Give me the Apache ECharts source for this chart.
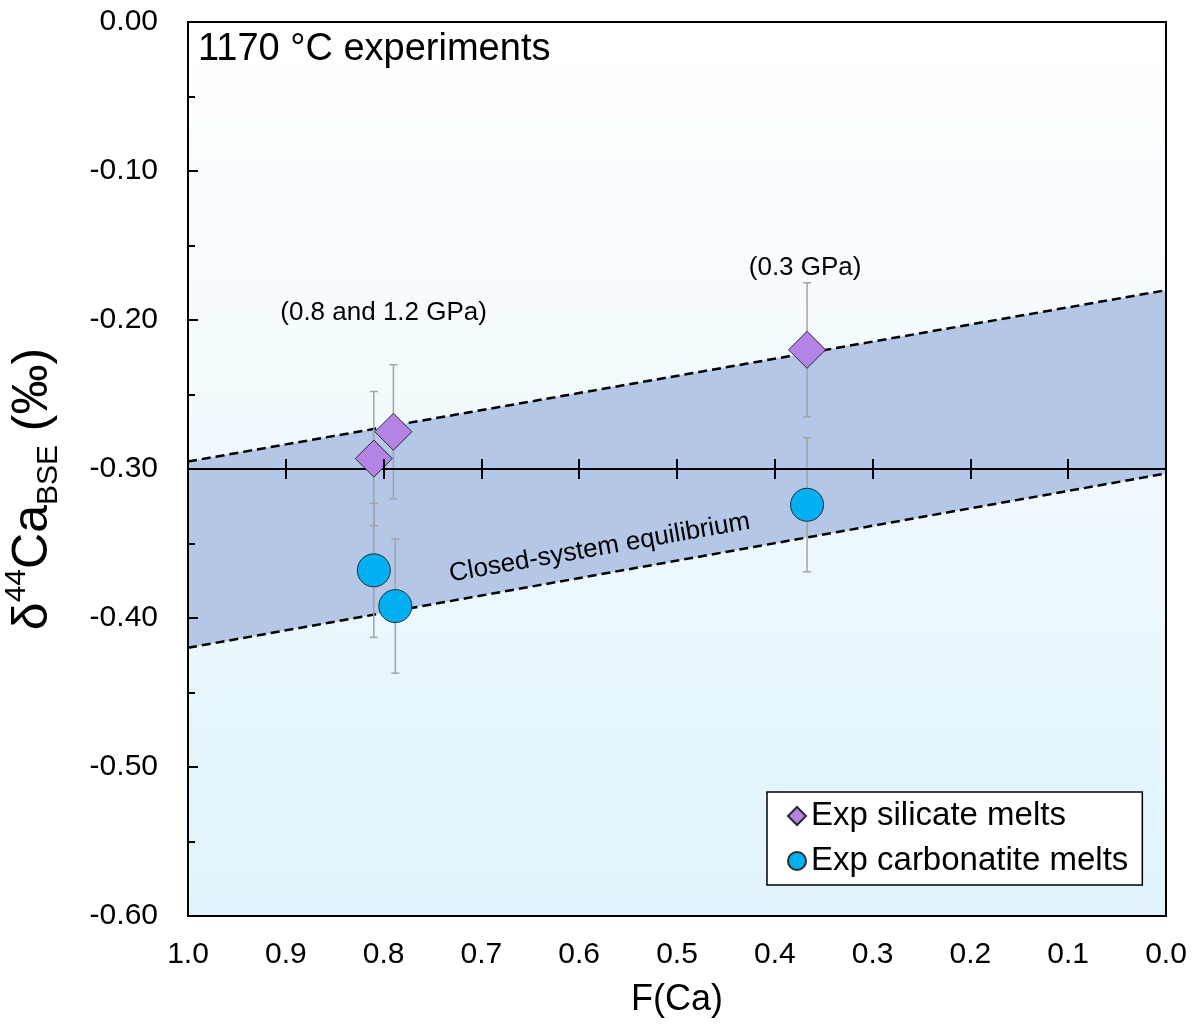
<!DOCTYPE html>
<html>
<head>
<meta charset="utf-8">
<script src="https://cdn.jsdelivr.net/npm/echarts@6/dist/echarts.min.js"></script>
<style>
  html, body { margin: 0; padding: 0; background: #fff; }
  #chart { width: 1195px; height: 1027px; }
</style>
</head>
<body>
<div id="chart"></div>
<script>
// data
const xTicks = [1.0, 0.9, 0.8, 0.7, 0.6, 0.5, 0.4, 0.3, 0.2, 0.1, 0.0];
const yTicks = [0.0, -0.1, -0.2, -0.3, -0.4, -0.5, -0.6];

const silicateF = [0.81, 0.79, 0.367];
const silicateD = [-0.293, -0.275, -0.220];
const silicateErr = [0.045, 0.045, 0.045];

const carbF = [0.81, 0.788, 0.367];
const carbD = [-0.368, -0.392, -0.324];
const carbErr = [0.045, 0.045, 0.045];

// closed-system equilibrium band (end points at F = 1 and F = 0)
const bandF = [1.0, 0.0];
const bandUpper = [-0.295, -0.18];
const bandLower = [-0.42, -0.303];
const bseLine = -0.30;

const noteText = ["(0.8 and 1.2 GPa)", "(0.3 GPa)", "Closed-system equilibrium"];
const noteF = [0.80, 0.369, 0.579];
const noteD = [-0.195, -0.165, -0.353];
const noteRot = [0, 0, 10];
const noteSize = [26, 26, 26];

const FONT = "'Liberation Sans', Arial, sans-serif";

const chart = echarts.init(document.getElementById("chart"));
const gridH = 1027 - 22 - 111;

function errBars(params, api) {
  const x = api.value(0), y = api.value(1), e = api.value(2);
  const top = api.coord([x, y + e]);
  const bot = api.coord([x, y - e]);
  const style = { stroke: "#a3a3a3", lineWidth: 1.5 };
  return {
    type: "group",
    children: [
      { type: "line", shape: { x1: top[0], y1: top[1], x2: bot[0], y2: bot[1] }, style: style },
      { type: "line", shape: { x1: top[0] - 4, y1: top[1], x2: top[0] + 4, y2: top[1] }, style: style },
      { type: "line", shape: { x1: bot[0] - 4, y1: bot[1], x2: bot[0] + 4, y2: bot[1] }, style: style },
    ],
  };
}

function bandPoly(params, api) {
  const pts = [];
  for (let i = 0; i < bandF.length; i++) pts.push(api.coord([bandF[i], bandUpper[i]]));
  for (let i = bandF.length - 1; i >= 0; i--) pts.push(api.coord([bandF[i], bandLower[i]]));
  return { type: "polygon", shape: { points: pts }, style: { fill: "#b4c7e7" } };
}

chart.setOption({
  animation: false,
  textStyle: { fontFamily: FONT },
  grid: {
    left: 188, right: 29, top: 22, bottom: 111,
    outerBoundsMode: "none",
    containLabel: false,
    show: true,
    borderColor: "#000",
    borderWidth: 2,
    backgroundColor: {
      type: "linear", x: 0, y: 0, x2: 0, y2: 1,
      colorStops: [
        { offset: 0, color: "#ffffff" },
        { offset: 1, color: "#e0f3fc" },
      ],
    },
  },
  legend: {
    data: ["Exp silicate melts", "Exp carbonatite melts"],
    orient: "vertical",
    left: 767,
    top: 792,
    backgroundColor: "#fff",
    borderColor: "#000",
    borderWidth: 1.5,
    borderRadius: 0,
    padding: [7, 14, 7, 20],
    itemWidth: 18,
    itemHeight: 18,
    itemGap: 11,
    textStyle: { fontSize: 33, color: "#000", lineHeight: 34, fontFamily: FONT },
  },
  xAxis: [
    {
      type: "value",
      min: 0, max: 1, interval: 0.1,
      inverse: true,
      position: "bottom",
      z: 10,
      axisLine: { show: true, onZero: false, lineStyle: { color: "#000", width: 2 } },
      axisTick: { show: false },
      splitLine: { show: false },
      axisLabel: {
        fontSize: 30, color: "#000", margin: 24,
        formatter: (v) => v.toFixed(1),
      },
      name: "F(Ca)",
      nameLocation: "middle",
      nameGap: 66,
      nameTextStyle: { fontSize: 36, color: "#000" },
    },
    {
      // crossing ticks on the BSE line
      type: "value",
      min: 0, max: 1, interval: 0.1,
      inverse: true,
      position: "top",
      offset: -(gridH / 2 - 10),
      z: 10,
      axisLine: { show: false, onZero: false },
      axisTick: { show: true, inside: true, length: 20, lineStyle: { color: "#000", width: 2 } },
      axisLabel: { show: false },
      splitLine: { show: false },
    },
  ],
  yAxis: {
    type: "value",
    min: -0.6, max: 0, interval: 0.1,
    z: 10,
    axisLine: { show: true, onZero: false, lineStyle: { color: "#000", width: 2 } },
    axisTick: { show: true, inside: true, length: 10, lineStyle: { color: "#000", width: 2 } },
    minorTick: { show: true, splitNumber: 2, length: 7, lineStyle: { color: "#000", width: 2 } },
    splitLine: { show: false },
    axisLabel: {
      fontSize: 30, color: "#000", margin: 30,
      formatter: (v) => v.toFixed(2),
    },
    name: "{n|δ}{sup|44}{n|Ca}{sub|BSE}{n| (‰)}",
    nameLocation: "middle",
    nameRotate: 90,
    nameGap: 124,
    nameTextStyle: {
      color: "#000",
      padding: [0, 40, 0, 0],
      rich: {
        n: { fontSize: 50, fontFamily: FONT, color: "#000", lineHeight: 62 },
        sup: { fontSize: 30, fontFamily: FONT, color: "#000", verticalAlign: "top", lineHeight: 62, padding: [0, 0, 24, 0] },
        sub: { fontSize: 30, fontFamily: FONT, color: "#000", verticalAlign: "bottom", lineHeight: 62, padding: [14, 0, 0, 0] },
      },
    },
  },
  title: {
    text: "1170 °C experiments",
    left: 193,
    top: 26,
    textStyle: { fontSize: 38, fontWeight: "normal", color: "#000", fontFamily: FONT },
  },
  series: [
    {
      type: "custom",
      name: "band",
      renderItem: bandPoly,
      data: [[0]],
      z: 1,
      silent: true,
    },
    {
      type: "line",
      name: "upper",
      data: bandF.map((f, i) => [f, bandUpper[i]]),
      symbol: "none",
      lineStyle: { color: "#000", width: 2.5, type: [9, 5] },
      z: 3,
      markLine: {
        silent: true,
        symbol: "none",
        label: { show: false },
        lineStyle: { color: "#000", width: 2, type: "solid" },
        data: [{ yAxis: bseLine }, { xAxis: 0 }],
      },
    },
    {
      type: "line",
      name: "lower",
      data: bandF.map((f, i) => [f, bandLower[i]]),
      symbol: "none",
      lineStyle: { color: "#000", width: 2.5, type: [9, 5] },
      z: 3,
    },
    {
      type: "custom",
      name: "errSil",
      renderItem: errBars,
      data: silicateF.map((f, i) => [f, silicateD[i], silicateErr[i]]),
      z: 4,
    },
    {
      type: "custom",
      name: "errCarb",
      renderItem: errBars,
      data: carbF.map((f, i) => [f, carbD[i], carbErr[i]]),
      z: 4,
    },
    {
      type: "scatter",
      name: "Exp silicate melts",
      symbol: "diamond",
      symbolSize: 37,
      itemStyle: { color: "#b383e6", borderColor: "#2a2a2a", borderWidth: 1, opacity: 1 },
      data: silicateF.map((f, i) => [f, silicateD[i]]),
      z: 5,
    },
    {
      type: "scatter",
      name: "Exp carbonatite melts",
      symbol: "circle",
      symbolSize: 33,
      itemStyle: { color: "#00b0f0", borderColor: "#2a2a2a", borderWidth: 1, opacity: 1 },
      data: carbF.map((f, i) => [f, carbD[i]]),
      z: 5,
    },
    {
      type: "scatter",
      name: "notes",
      symbolSize: 0,
      silent: true,
      z: 6,
      itemStyle: { color: "#000", opacity: 1 },
      data: noteText.map((t, i) => ({
        value: [noteF[i], noteD[i]],
        label: {
          show: true, formatter: t, rotate: noteRot[i],
          position: "inside", fontSize: noteSize[i], color: "#000",
          textBorderWidth: 0, fontFamily: FONT,
        },
      })),
    },
  ],
});
</script>
</body>
</html>
